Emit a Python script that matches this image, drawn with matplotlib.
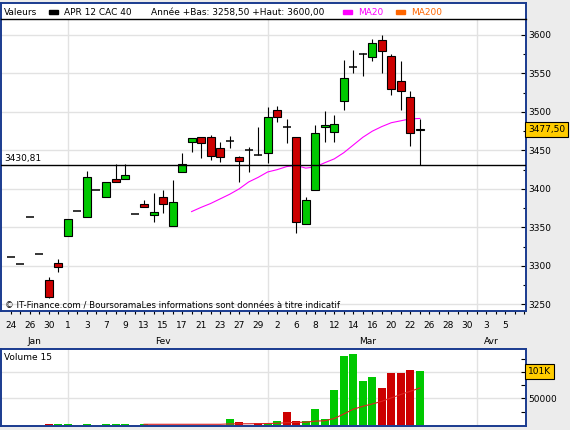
import numpy as np
import pandas as pd
import matplotlib
matplotlib.use("Agg")
from matplotlib import pyplot as plt
from matplotlib import transforms
from matplotlib.patches import Rectangle

plt.rcParams['font.family'] = ['DejaVu Sans']
plt.rcParams['font.size'] = 6.5

# jours ouvrés de l'axe des x (24 jan -> 5 avr 2012)
dates = pd.bdate_range('2012-01-24', '2012-04-05')
month_names = {1: 'Jan', 2: 'Fev', 3: 'Mar', 4: 'Avr'}

# bougies APR 12 CAC 40, une par jour ouvré depuis le 24 jan
opens  = [3311, 3303, 3363, 3316, 3282, 3304, 3339, 3371, 3364, 3399,
          3390, 3413, 3413.5, 3367, 3381, 3365.5, 3389.5, 3352, 3422.5, 3460.5,
          3467, 3467, 3452.5, 3462, 3441, 3450.5, 3444, 3446, 3502, 3480,
          3468, 3355, 3398.5, 3480, 3473.5, 3514.5, 3559, 3575, 3571, 3593.5,
          3572.5, 3540, 3519.5, 3476]
highs  = [3311, 3303, 3363, 3316, 3285, 3309, 3361.5, 3371, 3423, 3399,
          3409.5, 3432, 3432, 3367, 3386, 3395, 3399, 3411, 3446, 3465.5,
          3467, 3470, 3460.5, 3468.5, 3443, 3454, 3480.5, 3506.5, 3508, 3490.5,
          3468, 3389, 3483, 3501, 3496, 3567.5, 3580.5, 3576.5, 3595, 3600,
          3575, 3566.5, 3527, 3490.5]
lows   = [3311, 3303, 3363, 3316, 3258.5, 3292, 3339, 3371, 3364, 3399,
          3390, 3409.5, 3413.5, 3367, 3377, 3357, 3369, 3352, 3422.5, 3448,
          3439.5, 3437.5, 3435, 3452.5, 3409, 3422, 3444, 3434, 3487, 3460,
          3343, 3355, 3398.5, 3460.5, 3461, 3502.5, 3551, 3547, 3566.5, 3550,
          3522, 3502.5, 3456, 3431]
closes = [3311, 3303, 3363, 3316, 3260, 3298, 3361.5, 3371, 3415, 3399,
          3409.5, 3409.5, 3418.5, 3367, 3377, 3369.5, 3380.5, 3383, 3431.8, 3465.5,
          3459, 3442.5, 3441, 3462, 3436, 3450.5, 3444, 3493, 3493, 3480,
          3357.5, 3386, 3472, 3483, 3484, 3543.5, 3559, 3575, 3589, 3579,
          3529.5, 3527.5, 3472, 3477.5]

# MA20 (commence à la 20e séance)
ma20_start = 19
ma20 = [3370.5, 3376, 3381, 3387, 3393, 3400, 3409, 3415, 3422, 3425,
        3429, 3430.5, 3427, 3428.5, 3434, 3439, 3447, 3457, 3467, 3475,
        3481, 3486, 3488.5, 3491, 3491.5]

# volumes
vol_idx = [4, 5, 6, 8, 10, 11, 12, 14, 23, 24, 26, 27, 28, 29, 30, 31,
           32, 33, 34, 35, 36, 37, 38, 39, 40, 41, 42, 43]
vol     = [1500, 1500, 1500, 1500, 1500, 1500, 1500, 1500, 11000, 5900, 3400, 2100,
           7800, 24200, 7800, 7800, 29900, 11000, 65900, 130900, 134700, 83000,
           90500, 69700, 98700, 98700, 104400, 101000]
vol_up  = [False, True, True, True, True, True, True, True, True, False, False, True,
           True, False, False, True, True, True, True, True, True, True,
           True, False, False, False, False, True]

# moyenne mobile 15 du volume
volma_start = 14
volma = [1000, 1000, 1000, 1000, 1000, 1000, 1000, 1000, 1000, 1700,
         2000, 2000, 2300, 2400, 2900, 4000, 4500, 5000, 7000, 7700,
         12000, 20500, 29500, 35000, 39500, 44500, 51000, 57500, 63500, 69700]

ref_level = 3430.81
last_close = 3477.50
last_vol_label = '101K'

GREEN = '#00c800'
RED = '#cc0000'
BORDER = '#1a3b8f'
GRID = '#e2e2e2'

W, H = 570, 430
fig = plt.figure(figsize=(W / 100, H / 100), dpi=100, facecolor='#ececec')

def px_axes(x0, y0, x1, y1):
    return fig.add_axes([x0 / W, 1 - y1 / H, (x1 - x0) / W, (y1 - y0) / H])

ax_head = px_axes(1, 3, 525.7, 19.3)
ax = px_axes(1, 19.3, 525.7, 311)
axv = px_axes(1, 349.3, 525.7, 425.5)

xlim = (-1.04, 54.13)
idx_all = np.arange(len(dates))
month_start = [i for i in idx_all if i == 0 or dates[i].month != dates[i - 1].month][1:]

# --- entête ---
ax_head.set_xticks([])
ax_head.set_yticks([])
for s in ('top', 'left', 'right'):
    ax_head.spines[s].set_color(BORDER)
    ax_head.spines[s].set_linewidth(1.4)
ax_head.spines['bottom'].set_visible(False)

def hx(px):
    return (px - 1) / 524.7

ty = 0.42
ax_head.text(hx(3.6), ty, 'Valeurs', va='center', ha='left')
ax_head.add_patch(Rectangle((hx(49), ty - 0.1), hx(58) - hx(49), 0.22, color='black',
                            transform=ax_head.transAxes))
ax_head.text(hx(63.6), ty, 'APR 12 CAC 40', va='center', ha='left')
ax_head.text(hx(151), ty, 'Année +Bas: 3258,50 +Haut: 3600,00', va='center', ha='left')
ax_head.add_patch(Rectangle((hx(342.5), ty - 0.1), hx(352) - hx(342.5), 0.22, color='#ff00ff',
                            transform=ax_head.transAxes))
ax_head.text(hx(358), ty, 'MA20', va='center', ha='left', color='#ff00ff')
ax_head.add_patch(Rectangle((hx(395.6), ty - 0.1), hx(404.7) - hx(395.6), 0.22, color='#ff6600',
                            transform=ax_head.transAxes))
ax_head.text(hx(411), ty, 'MA200', va='center', ha='left', color='#ff6600')

# --- graphique principal ---
o, h, l, c = map(np.array, (opens, highs, lows, closes))
x = np.arange(len(o))
up = c > o
down = c < o
flat = c == o
bw = 0.84

ax.vlines(x, l, h, color='black', lw=0.8, zorder=3)
ax.bar(x[up], (c - o)[up], bottom=o[up], width=bw, color=GREEN, edgecolor='black', lw=0.8, zorder=4)
ax.bar(x[down], (o - c)[down], bottom=c[down], width=bw, color=RED, edgecolor='black', lw=0.8, zorder=4)
ax.hlines(o[flat], x[flat] - bw / 2, x[flat] + bw / 2, color='black', lw=1.1, zorder=4)

ax.plot(np.arange(ma20_start, ma20_start + len(ma20)), ma20, color='#ff00ff', lw=0.8, zorder=2)

ax.axhline(ref_level, color='black', lw=1.0, zorder=6)
ax.annotate('3430,81', (0.006, ref_level), xycoords=transforms.blended_transform_factory(ax.transAxes, ax.transData),
            xytext=(0, 1.5), textcoords='offset points', va='bottom', ha='left')

ax.set_xlim(*xlim)
ax.set_ylim(3241.3, 3620.4)
ax.set_yticks(np.arange(3250, 3601, 50))
ax.set_yticks(np.arange(3275, 3601, 50), minor=True)
ax.yaxis.tick_right()
ax.tick_params(axis='y', which='major', direction='in', length=3.6, pad=1.5, width=0.8)
ax.tick_params(axis='y', which='minor', direction='in', length=2, width=0.8)
ax.grid(axis='y', which='major', color=GRID, lw=1.0, zorder=0)
for m in month_start:
    ax.axvline(m, color=GRID, lw=1.0, zorder=0)

ax.set_xticks(idx_all[::2])
ax.set_xticklabels([str(d.day) for d in dates[::2]])
ax.set_xticks(np.arange(0, 55), minor=True)
ax.tick_params(axis='x', which='both', direction='out', length=2.2, width=0.8, pad=5)
ax.set_axisbelow(True)

tmonth = transforms.blended_transform_factory(ax.transData, ax.transAxes)
for mth in sorted(set(dates.month)):
    pos = idx_all[dates.month == mth].mean()
    ax.text(pos, -0.103, month_names[mth], transform=tmonth, ha='center', va='center')

ax.text(0.008, 0.016, '© IT-Finance.com / BoursoramaLes informations sont données à titre indicatif',
        transform=ax.transAxes, ha='left', va='center', fontsize=6.2, zorder=7)

for s in ('left', 'right', 'bottom'):
    ax.spines[s].set_color(BORDER)
    ax.spines[s].set_linewidth(1.4)
ax.spines['top'].set_color('black')
ax.spines['top'].set_linewidth(1.0)

tlast = transforms.blended_transform_factory(ax.transAxes, ax.transData)
ax.text(1.004, last_close, '3477,50', transform=tlast, ha='left', va='center', zorder=10,
        bbox=dict(boxstyle='square,pad=0.35', fc='#ffcc00', ec='black', lw=0.8), clip_on=False)

# --- volume ---
axv.bar(vol_idx, vol, width=bw, color=[GREEN if u else RED for u in vol_up], lw=0, zorder=3)
axv.plot(np.arange(volma_start, volma_start + len(volma)), volma, color='#dd2222', lw=0.8, zorder=4)
axv.set_xlim(*xlim)
axv.set_ylim(-1300, 143000)
axv.set_xticks([])
axv.yaxis.tick_right()
axv.set_yticks([25000, 50000, 75000, 100000, 125000])
axv.set_yticklabels(['', '50000', '', '', ''])
axv.tick_params(axis='y', direction='in', length=3.6, pad=1.5, width=0.8)
for lev in (50000, 100000):
    axv.axhline(lev, color=GRID, lw=1.0, zorder=0)
for m in month_start:
    axv.axvline(m, color=GRID, lw=1.0, zorder=0)
for s in axv.spines.values():
    s.set_color(BORDER)
    s.set_linewidth(1.4)
axv.text(0.006, 0.886, 'Volume 15', transform=axv.transAxes, ha='left', va='center')
tv = transforms.blended_transform_factory(axv.transAxes, axv.transData)
axv.text(1.004, 101000, last_vol_label, transform=tv, ha='left', va='center', zorder=10,
         bbox=dict(boxstyle='square,pad=0.35', fc='#ffcc00', ec='black', lw=0.8), clip_on=False)

fig.savefig('out.png', dpi=100, facecolor=fig.get_facecolor())
